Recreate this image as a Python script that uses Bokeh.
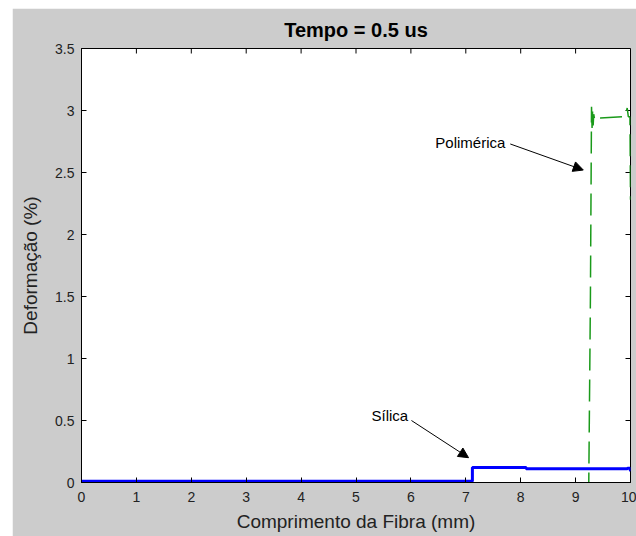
import math
from bokeh.plotting import figure
from bokeh.models import Range1d, FixedTicker, Arrow, NormalHead, ColumnDataSource
from bokeh.core.properties import value
from bokeh.embed import file_html
from bokeh.resources import INLINE

# Data
silica_x = [0.0, 7.12, 7.12, 8.1, 8.1, 9.93, 9.95, 9.99, 10.0]
silica_y = [0.01, 0.01, 0.12, 0.12, 0.11, 0.11, 0.115, 0.115, 0.09]

polim_x = [0.0, 9.24, 9.27, 9.29, 9.30, 9.31, 9.32, 9.33, 9.35, 9.38, 9.45, 9.9, 9.94, 9.96, 9.99, 10.0]
polim_y = [-0.005, -0.005, 1.5, 3.03, 2.86, 3.0, 2.88, 2.97, 2.92, 2.94, 2.94, 2.95, 3.02, 2.95, 2.95, 2.28]

x_ticks = [0, 1, 2, 3, 4, 5, 6, 7, 8, 9, 10]
y_ticks = [0, 0.5, 1, 1.5, 2, 2.5, 3, 3.5]
y_tick_labels = ["0", "0.5", "1", "1.5", "2", "2.5", "3", "3.5"]

labels_text = ["Polimérica", "Sílica"]
labels_x = [7.72, 5.95]
labels_y = [2.74, 0.54]
arrows_start_x = [7.81, 6.01]
arrows_start_y = [2.73, 0.50]
arrows_end_x = [9.14, 7.05]
arrows_end_y = [2.52, 0.20]

GRAY = "#cccccc"
FONT = "Liberation Sans"

p = figure(width=624, height=528, output_backend="svg", toolbar_location=None,
           x_range=Range1d(0, 10), y_range=Range1d(0, 3.5),
           title="Tempo = 0.5 us", margin=(8, 0, 0, 12),
           min_border_left=69, min_border_right=6, min_border_top=40, min_border_bottom=54)

p.border_fill_color = GRAY
p.background_fill_color = "white"
p.outline_line_color = "black"
p.grid.visible = False

p.title.align = "center"
p.title.text_font = FONT
p.title.text_font_size = "20px"
p.title.text_font_style = "bold"
p.title.text_color = "black"
p.title.offset = 0
p.title.standoff = 16

for ax in (p.xaxis[0], p.yaxis[0]):
    ax.major_tick_in = 5
    ax.major_tick_out = 0
    ax.minor_tick_in = 0
    ax.minor_tick_out = 0
    ax.axis_line_color = "black"
    ax.major_tick_line_color = "black"
    ax.major_label_text_font = FONT
    ax.major_label_text_font_size = "14px"
    ax.major_label_text_color = "#222222"
    ax.axis_label_text_font = FONT
    ax.axis_label_text_font_size = "19px"
    ax.axis_label_text_font_style = "normal"
    ax.axis_label_text_color = "#222222"

p.xaxis[0].ticker = FixedTicker(ticks=x_ticks)
p.yaxis[0].ticker = FixedTicker(ticks=y_ticks)
p.xaxis[0].major_label_overrides = {t: str(t) for t in x_ticks}
p.yaxis[0].major_label_overrides = dict(zip(y_ticks, y_tick_labels))
p.xaxis[0].axis_label = "Comprimento da Fibra (mm)"
p.yaxis[0].axis_label = "Deformação (%)"
p.xaxis[0].major_label_standoff = 9
p.xaxis[0].axis_label_standoff = 6
p.yaxis[0].major_label_standoff = 7
p.yaxis[0].axis_label_standoff = 11

# inward ticks on the top and right edges of the box
p.ray(x=x_ticks, y=[3.5] * len(x_ticks), length=5, length_units="screen",
      angle=-math.pi / 2, line_color="black", line_width=1)
p.ray(x=[10] * len(y_ticks), y=y_ticks, length=5, length_units="screen",
      angle=math.pi, line_color="black", line_width=1)

p.line(polim_x, polim_y, line_color="#1a9a1a", line_width=1.5, line_dash="22 9")
p.line(silica_x, silica_y, line_color="#0000ff", line_width=3)

src = ColumnDataSource(dict(x=labels_x, y=labels_y, t=labels_text))
p.text(x="x", y="y", text="t", source=src, text_align="right", text_baseline="middle",
       text_font=value(FONT), text_font_size="15px", text_color="black")

for sx, sy, ex, ey in zip(arrows_start_x, arrows_start_y, arrows_end_x, arrows_end_y):
    p.add_layout(Arrow(end=NormalHead(size=10, fill_color="black", line_color="black"),
                       x_start=sx, y_start=sy, x_end=ex, y_end=ey,
                       line_color="black", line_width=1))

open("out.html", "w").write(file_html(p, INLINE))
